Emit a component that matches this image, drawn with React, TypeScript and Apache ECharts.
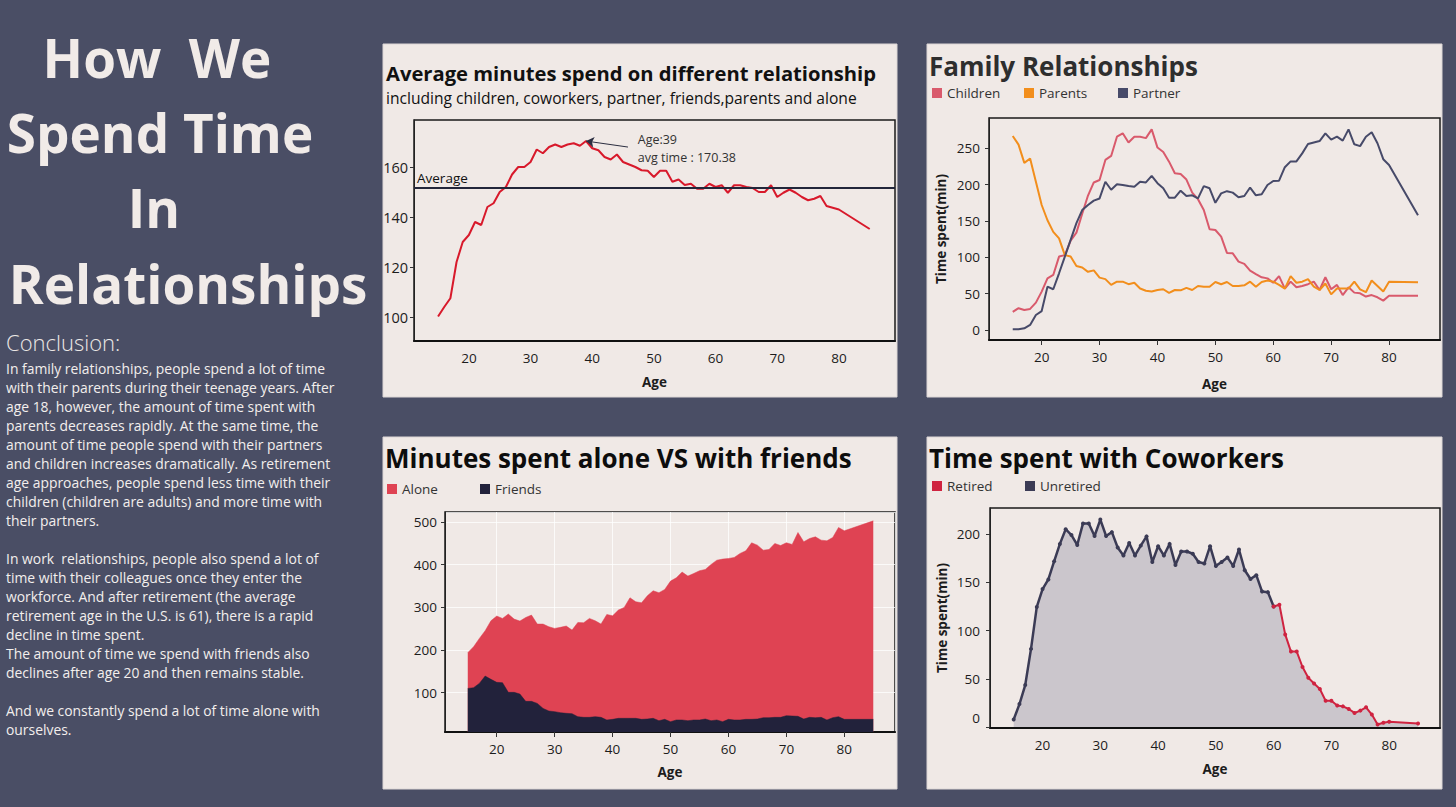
import React, { useEffect, useRef } from "react";
import * as echarts from "echarts";

// ---------- data ----------
const AGES = [
  15, 16, 17, 18, 19, 20, 21, 22, 23, 24,
  25, 26, 27, 28, 29, 30, 31, 32, 33, 34,
  35, 36, 37, 38, 39, 40, 41, 42, 43, 44,
  45, 46, 47, 48, 49, 50, 51, 52, 53, 54,
  55, 56, 57, 58, 59, 60, 61, 62, 63, 64,
  65, 66, 67, 68, 69, 70, 71, 72, 73, 74,
  75, 76, 77, 78, 79, 80, 85,
];

const AVG_MINUTES = [
  100.2, 104, 107.5, 122, 130, 132.8, 138, 136.8, 144, 145.5,
  150, 152, 157, 160, 160, 162, 167, 165.5, 168, 169,
  168, 169, 169.5, 168.5, 170.38, 167.5, 166.7, 164, 163, 165,
  162, 161, 160, 158.7, 158.5, 156, 158.5, 158.5, 154.1, 155,
  152.8, 153.3, 151.3, 151.3, 153.3, 152, 152.7, 149.7, 152.7, 152.7,
  152, 151.6, 150, 150, 152.7, 148, 149.7, 151, 149.7, 148,
  146.7, 147.3, 148.4, 144.4, 143.7, 143, 135.2,
];

const CHILDREN = [
  24.8, 30, 27.5, 29, 37.6, 52.8, 71, 75.7, 101, 103,
  123, 134, 160, 185, 203, 206.4, 234, 239.5, 266, 270.6,
  258, 266, 266, 264, 276, 251, 245, 231.6, 215.6, 214.7,
  207, 189, 180, 165, 138.5, 137.6, 128.4, 106, 105.5, 94,
  91, 81.7, 77, 72.5, 71, 65, 74, 57, 66.5, 58.7,
  60.5, 63, 66.5, 55, 72.5, 56, 62, 48, 58.7, 51.4,
  50.5, 46, 48, 45, 40.4, 47, 47,
];

const PARENTS = [
  267, 255, 230, 236, 204, 172, 151, 135, 126, 103,
  101, 88, 86, 80, 82, 72, 70, 62, 66.5, 66.5,
  63, 65, 57, 54, 53, 55, 56, 51, 55, 54.6,
  58, 55, 60.5, 59.6, 59.6, 66, 63, 66, 60.5, 60.5,
  61.5, 66.5, 59.6, 66, 68, 66.5, 62, 57, 74, 65,
  66.5, 70, 59.6, 55, 64, 49, 57, 57, 57, 66.5,
  56, 52, 68, 60.5, 53, 66.5, 65.6,
];

const PARTNER = [
  0.9, 0.9, 2.3, 6.9, 20.6, 26, 59.6, 56, 78, 100.9,
  124, 147, 165, 172, 178, 181, 204, 193, 200.5, 199.5,
  198, 197, 204, 203, 212, 202, 195, 182, 182, 191.7,
  184.4, 185.3, 181, 198, 195, 175, 188, 191, 189, 182.6,
  184.4, 196, 185.3, 186.7, 199.5, 205, 205.5, 224, 232, 232,
  243, 256, 258, 260, 270.6, 262, 266, 260.6, 276, 255.5,
  253, 266, 272, 257, 235, 227, 158,
];

const ALONE = [
  193.6, 207.6, 227, 245, 268.4, 279.3, 273.9, 284, 272.3, 267.6,
  276, 281.7, 260.6, 260.6, 254.4, 250.5, 253, 256, 246.6, 264.5,
  263.7, 273.9, 268.4, 260.6, 283.2, 280, 293.4, 299.6, 322.2, 312.9,
  310.5, 326.9, 338.6, 334, 341.7, 361.2, 369, 382.3, 372.9, 379.1,
  385.4, 388.5, 400.2, 410.3, 412.7, 414.2, 416.6, 425.9, 432.2, 450.9,
  445.4, 433.7, 435.3, 449.3, 444.6, 450.9, 447, 475, 453.2, 461,
  464.9, 457.1, 455.6, 463.4, 486.7, 479, 502.3,
];

const FRIENDS = [
  110, 111.7, 121.8, 139, 131.2, 124.2, 123.4, 100.8, 100.8, 96.9,
  79.7, 79.7, 75, 63.3, 57.1, 55.6, 53.2, 51.7, 50.9, 43.9,
  42.3, 42.3, 43.9, 42.3, 36.1, 37.6, 40, 40, 40, 40,
  37.6, 38.4, 40, 34.5, 37.6, 32.2, 36.1, 36.1, 34.5, 36.1,
  36.1, 38.4, 34.5, 36.1, 32.2, 37.6, 36.1, 36.1, 37.6, 37.6,
  38.4, 41.5, 41.5, 42.3, 42.3, 46.2, 45.4, 44.7, 38.4, 42.3,
  41.5, 42.3, 36.1, 41.5, 43.9, 37.6, 37.6,
];

const COWORKERS = [
  7.8, 23.8, 43.5, 81, 124.5, 143, 153, 171.7, 189.8, 205,
  199, 188.7, 211, 211, 198, 215, 198, 202, 186, 177.8,
  190.8, 177.8, 188, 197.6, 171, 187.4, 177.8, 189.8, 168, 181.9,
  181.9, 179.6, 171, 169.4, 187.4, 167, 171, 175.8, 167, 184,
  162.5, 153.4, 157.4, 140.4, 139.8, 125, 126.8, 96, 78.2, 78.2,
  62.2, 51, 45.2, 39.4, 27.2, 27.2, 22.4, 21.4, 18.7, 14.6,
  17, 20.4, 12.9, 2.7, 4.4, 5.4, 3.7,
];

const RETIREMENT_AGE = 60;

const MAIN_TITLE_LINES = ["How  We", "Spend Time", "In", "Relationships"];
const CONCLUSION_LINES = [
  "In family relationships, people spend a lot of time",
  "with their parents during their teenage years. After",
  "age 18, however, the amount of time spent with",
  "parents decreases rapidly. At the same time, the",
  "amount of time people spend with their partners",
  "and children increases dramatically. As retirement",
  "age approaches, people spend less time with their",
  "children (children are adults) and more time with",
  "their partners.",
  "",
  "In work  relationships, people also spend a lot of",
  "time with their colleagues once they enter the",
  "workforce. And after retirement (the average",
  "retirement age in the U.S. is 61), there is a rapid",
  "decline in time spent.",
  "The amount of time we spend with friends also",
  "declines after age 20 and then remains stable.",
  "",
  "And we constantly spend a lot of time alone with",
  "ourselves.",
];

// ---------- styles ----------
const FONT = "'Open Sans', Lato, sans-serif";
const BG = "#4a4e65";
const PANEL = "#f0e9e6";
const INK = "#1c1c1c";

function xAxis(gridIndex: number, min: number, max: number, nameGap: number, showTick: boolean, gridLines = false) {
  return {
    type: "value",
    gridIndex,
    min,
    max,
    splitNumber: 8,
    name: "Age",
    nameLocation: "middle",
    nameGap,
    nameTextStyle: { fontFamily: FONT, fontWeight: "bold", fontSize: 13.5, color: INK },
    axisLine: { show: true, onZero: false, lineStyle: { color: "#111", width: 2 } },
    axisTick: { show: showTick, length: 5, lineStyle: { color: "#333" } },
    axisLabel: {
      showMinLabel: false,
      showMaxLabel: false,
      margin: 10,
      fontFamily: FONT,
      fontSize: 13.5,
      color: INK,
    },
    splitLine: gridLines
      ? { show: true, lineStyle: { color: "rgba(255,255,255,0.75)", width: 1 } }
      : { show: false },
  };
}

function yAxis(gridIndex: number, min: number, max: number, splitNumber: number, name: string, margin: number, extra: any = {}) {
  return {
    type: "value",
    gridIndex,
    min,
    max,
    splitNumber,
    name,
    nameLocation: "middle",
    nameGap: 41,
    nameRotate: 90,
    nameTextStyle: { fontFamily: FONT, fontWeight: "bold", fontSize: 13.5, color: INK },
    axisLine: { show: true, onZero: false, lineStyle: { color: "#222", width: 1 } },
    axisTick: { show: true, length: 4, lineStyle: { color: "#333" } },
    axisLabel: {
      showMinLabel: false,
      showMaxLabel: false,
      margin,
      fontFamily: FONT,
      fontSize: extra.fontSize || 13.5,
      color: INK,
      ...(extra.axisLabel || {}),
    },
    splitLine: extra.splitLine || { show: false },
  };
}

function legendItem(name: string, left: number, top: number) {
  return {
    data: [name],
    left,
    top,
    padding: 0,
    icon: "rect",
    itemWidth: 10,
    itemHeight: 10,
    selectedMode: false,
    textStyle: { fontFamily: FONT, fontSize: 13.5, color: "#333" },
  };
}

export default function App() {
  const ref = useRef<HTMLDivElement>(null);

  useEffect(() => {
    const chart = echarts.init(ref.current!, null, { renderer: "svg" });
    const pair = (ys: number[]) => AGES.map((a, i) => [a, ys[i]]);

    let peakIdx = 0;
    AVG_MINUTES.forEach((v, i) => {
      if (v > AVG_MINUTES[peakIdx]) peakIdx = i;
    });
    const peakAge = AGES[peakIdx];
    const peakVal = AVG_MINUTES[peakIdx];

    const coworkAll = pair(COWORKERS);
    const unretired = coworkAll.filter((p) => p[0] <= RETIREMENT_AGE);
    const retired = coworkAll.filter((p) => p[0] >= RETIREMENT_AGE);

    const panels = [
      [383, 44, 514, 353],
      [927, 44, 515, 353],
      [383, 437, 514, 352],
      [927, 437, 515, 352],
    ].map(([x, y, w, h]) => ({
      type: "rect",
      z: -10,
      shape: { x, y, width: w, height: h },
      style: { fill: PANEL, stroke: "#dcd6d6", lineWidth: 1 },
    }));

    const titleCenters = [
      [157, 57],
      [160, 132],
      [154, 207],
      [188, 283],
    ];
    const mainTitle = MAIN_TITLE_LINES.map((t, i) => ({
      type: "text",
      z: 10,
      style: {
        text: t,
        x: titleCenters[i][0],
        y: titleCenters[i][1],
        align: "center",
        verticalAlign: "middle",
        font: "bold 53px 'Open Sans', Lato, sans-serif",
        fill: "#f1ebe8",
      },
    }));

    const mkText = (text: string, x: number, y: number, font: string, fill: string) => ({
      type: "text",
      z: 10,
      style: { text, x, y, verticalAlign: "middle", font, fill },
    });

    const texts = [
      ...mainTitle,
      mkText("Conclusion:", 6, 342, "300 22px " + FONT, "#ece8e6"),
      {
        type: "text",
        z: 10,
        style: {
          text: CONCLUSION_LINES.join("\n"),
          x: 6,
          y: 358.5,
          verticalAlign: "top",
          font: "13.9px " + FONT,
          lineHeight: 19,
          fill: "#f3efed",
        },
      },
      mkText("Average minutes spend on different relationship", 386, 73, "bold 20.2px " + FONT, "#111"),
      mkText("including children, coworkers, partner, friends,parents and alone", 386, 98, "15.6px " + FONT, "#111"),
      mkText("Family Relationships", 929, 66, "bold 26px " + FONT, "#2e2e2e"),
      mkText("Minutes spent alone VS with friends", 385, 458, "bold 26px " + FONT, "#0d0d0d"),
      mkText("Time spent with Coworkers", 929, 458, "bold 26px " + FONT, "#0d0d0d"),
    ];

    const gridBase = { show: true, borderColor: "#1a1a1a", borderWidth: 1.5, backgroundColor: "transparent", containLabel: false };

    const option: any = {
      animation: false,
      backgroundColor: BG,
      textStyle: { fontFamily: FONT },
      graphic: { elements: [...panels, ...texts] },
      grid: [
        { ...gridBase, left: 414, top: 120, width: 481, height: 221 },
        { ...gridBase, left: 989, top: 118, width: 451, height: 222 },
        { ...gridBase, left: 445, top: 512, width: 450, height: 220 },
        { ...gridBase, left: 990, top: 508, width: 450, height: 220 },
      ],
      xAxis: [
        xAxis(0, 11.1, 89.1, 34, false),
        xAxis(1, 10.9, 88.8, 37, true),
        xAxis(2, 11.07, 88.75, 33, true, true),
        xAxis(3, 10.9, 88.8, 34, false),
      ],
      yAxis: [
        yAxis(0, 90.4, 178.8, 4, "", 6, { fontSize: 14.5 }),
        yAxis(1, -13.8, 291.7, 6, "Time spent(min)", 9),
        yAxis(2, 8, 523, 5, "", 8, {
          splitLine: { show: true, lineStyle: { color: "rgba(255,255,255,0.75)", width: 1 } },
        }),
        yAxis(3, -1, 227, 5, "Time spent(min)", 10, {
          axisLabel: {
            formatter: (v: number) => (v === 0 ? "{z|0}" : String(v)),
            rich: { z: { fontFamily: FONT, fontSize: 13.5, color: INK, padding: [0, 0, 18, 0] } },
          },
        }),
      ],
      legend: [
        legendItem("Children", 932, 86),
        legendItem("Parents", 1024, 86),
        legendItem("Partner", 1118, 86),
        legendItem("Alone", 387, 482),
        legendItem("Friends", 480, 482),
        legendItem("Retired", 932, 479),
        legendItem("Unretired", 1025, 479),
      ],
      series: [
        {
          name: "Average minutes",
          type: "line",
          xAxisIndex: 0,
          yAxisIndex: 0,
          data: pair(AVG_MINUTES),
          symbol: "none",
          lineStyle: { color: "#d8192b", width: 2 },
          itemStyle: { color: "#d8192b" },
          z: 3,
          markLine: {
            silent: true,
            symbol: ["none", "none"],
            data: [
              {
                type: "average",
                name: "Average",
                lineStyle: { color: "#22263a", width: 2, type: "solid" },
                label: {
                  show: true,
                  position: "insideStartTop",
                  formatter: "Average",
                  fontFamily: FONT,
                  fontSize: 13.5,
                  color: "#111",
                  distance: 3,
                },
              },
              [
                {
                  coord: [peakAge, peakVal],
                  symbol: "arrow",
                  symbolSize: 8,
                  lineStyle: { color: "#2b2e40", width: 1, type: "solid" },
                  label: { show: false },
                },
                { coord: [peakAge + 6.8, peakVal - 2.4], symbol: "none" },
              ],
            ],
          },
          markPoint: {
            silent: true,
            data: [
              {
                coord: [peakAge + 8.3, peakVal - 2.8],
                symbol: "circle",
                symbolSize: 1,
                itemStyle: { color: "rgba(0,0,0,0)" },
                label: {
                  show: true,
                  position: "right",
                  distance: 0,
                  formatter: `Age:${peakAge}\navg time : ${peakVal}`,
                  fontFamily: FONT,
                  fontSize: 12.5,
                  lineHeight: 18,
                  color: "#333",
                },
              },
            ],
          },
        },
        {
          name: "Children",
          type: "line",
          xAxisIndex: 1,
          yAxisIndex: 1,
          data: pair(CHILDREN),
          symbol: "none",
          color: "#d95a6c",
          lineStyle: { color: "#d95a6c", width: 2 },
          itemStyle: { color: "#d95a6c" },
        },
        {
          name: "Parents",
          type: "line",
          xAxisIndex: 1,
          yAxisIndex: 1,
          data: pair(PARENTS),
          symbol: "none",
          color: "#f28e1c",
          lineStyle: { color: "#f28e1c", width: 2 },
          itemStyle: { color: "#f28e1c" },
        },
        {
          name: "Partner",
          type: "line",
          xAxisIndex: 1,
          yAxisIndex: 1,
          data: pair(PARTNER),
          symbol: "none",
          color: "#474a69",
          lineStyle: { color: "#474a69", width: 2 },
          itemStyle: { color: "#474a69" },
        },
        {
          name: "Alone",
          type: "line",
          xAxisIndex: 2,
          yAxisIndex: 2,
          data: pair(ALONE),
          symbol: "none",
          color: "#df4353",
          lineStyle: { color: "#df4353", width: 0.5 },
          itemStyle: { color: "#df4353" },
          areaStyle: { color: "#df4353", opacity: 1 },
        },
        {
          name: "Friends",
          type: "line",
          xAxisIndex: 2,
          yAxisIndex: 2,
          data: pair(FRIENDS),
          symbol: "none",
          color: "#22223b",
          lineStyle: { color: "#22223b", width: 0.5 },
          itemStyle: { color: "#22223b" },
          areaStyle: { color: "#22223b", opacity: 1 },
        },
        {
          name: "Coworker area",
          type: "line",
          xAxisIndex: 3,
          yAxisIndex: 3,
          data: coworkAll,
          symbol: "none",
          silent: true,
          lineStyle: { width: 0, color: "#cbc6cc" },
          itemStyle: { color: "#cbc6cc" },
          areaStyle: { color: "#cbc6cc", opacity: 1 },
          z: 1,
        },
        {
          name: "Unretired",
          type: "line",
          xAxisIndex: 3,
          yAxisIndex: 3,
          data: unretired,
          symbol: "circle",
          symbolSize: 4,
          showSymbol: true,
          color: "#26263e",
          lineStyle: { color: "#3b3b55", width: 2.5 },
          itemStyle: { color: "#3b3b55" },
        },
        {
          name: "Retired",
          type: "line",
          xAxisIndex: 3,
          yAxisIndex: 3,
          data: retired,
          symbol: "circle",
          symbolSize: 4,
          showSymbol: true,
          color: "#d7192a",
          lineStyle: { color: "#cf2340", width: 2 },
          itemStyle: { color: "#cf2340" },
        },
      ],
    };

    chart.setOption(option);
    return () => chart.dispose();
  }, []);

  return (
    <div
      ref={ref}
      style={{ position: "absolute", left: 0, top: 0, width: 1456, height: 807 }}
    />
  );
}
